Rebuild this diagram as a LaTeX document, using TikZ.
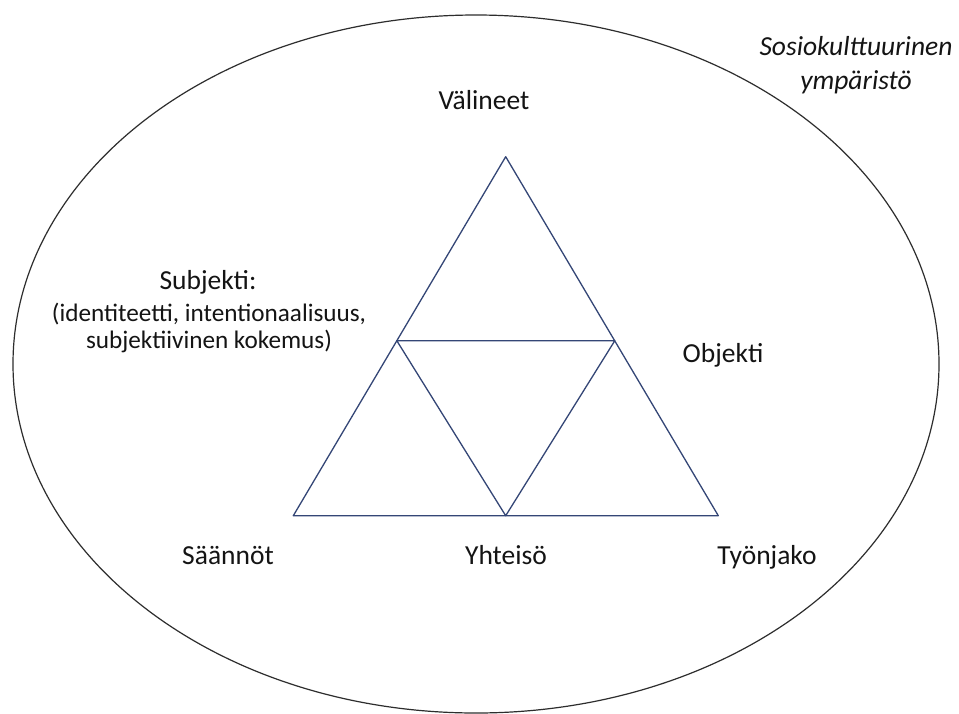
\documentclass[tikz,border=0pt]{standalone}
\usepackage{fontspec}
\setmainfont{Carlito}
\definecolor{tri}{RGB}{52,70,118}
\definecolor{ell}{RGB}{45,45,45}
\definecolor{txt}{RGB}{20,20,20}
\begin{document}
\begin{tikzpicture}[x=1pt,y=-1pt,
  lbl/.style={font=\fontsize{27.5}{34}\selectfont, inner sep=0pt, text=txt, anchor=base, align=center},
  sub/.style={font=\fontsize{25.2}{27}\selectfont, inner sep=0pt, text=txt, anchor=base, align=center},
  triline/.style={draw=tri, line width=1.3pt, line join=round, line cap=round},
  ellline/.style={draw=ell, line width=1.2pt}]
\useasboundingbox (0,0) rectangle (959,713);
\fill[white] (0,0) rectangle (959,713);
% environment ellipse
\draw[ellline] (476,364) ellipse [x radius=463pt, y radius=349pt];
% triangle corners
\coordinate (A) at (505.7,156.7);
\coordinate (B) at (293.3,515.7);
\coordinate (C) at (718.3,515.7);
\coordinate (L) at (396.8,340.7);
\coordinate (R) at (614.8,340.7);
\coordinate (M) at (505.7,515.7);
\draw[triline] (A) -- (B) -- (C) -- cycle;
\draw[triline] (L) -- (R) -- (M) -- cycle;
% labels (base anchor = baseline of the last line)
\node[lbl] (valineet) at (484,109.5) {Välineet};
\node[lbl] (subj) at (208,289) {Subjekti:};
\node[sub] (subjd) at (209,348) {(identiteetti, intentionaalisuus,\\subjektiivinen kokemus)};
\node[lbl] (objekti) at (723,362) {Objekti};
\node[lbl] (saannot) at (228,564) {Säännöt};
\node[lbl] (yhteiso) at (506,564) {Yhteisö};
\node[lbl] (tyonjako) at (767,564) {Työnjako};
\node[lbl, font=\fontsize{27.5}{34}\selectfont\itshape] (sosio) at (856,89) {Sosiokulttuurinen\\ympäristö};
\end{tikzpicture}
\end{document}
